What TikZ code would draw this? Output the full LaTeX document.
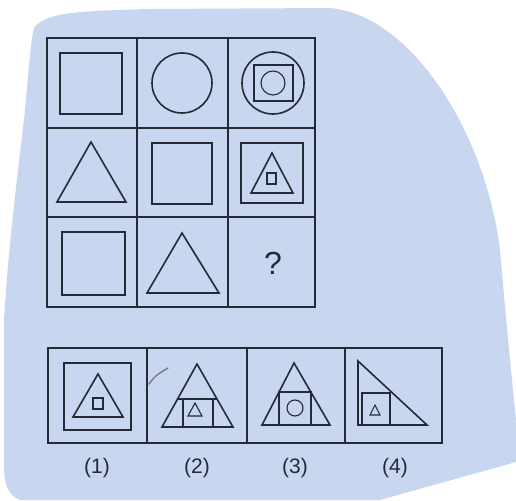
\documentclass[tikz,border=0pt]{standalone}
\usepackage{fontspec}
\setmainfont{Liberation Sans}
\definecolor{PaperBlue}{RGB}{201,214,239}
\definecolor{Ink}{RGB}{38,42,54}

\begin{document}
\begin{tikzpicture}[x=1pt, y=-1pt, line join=miter,
  g/.style={draw=Ink, line width=2pt},
  f/.style={draw=Ink, line width=1.6pt},
  t/.style={draw=Ink, line width=1.1pt},
  lab/.style={text=Ink, font=\fontsize{21}{24}\selectfont}]
  \useasboundingbox (0,0) rectangle (516,500);
  % paper sheet
  \fill[PaperBlue] (34,28) .. controls (45,12) and (80,11) .. (150,9) -- (330,8)
    .. controls (410,15) and (485,130) .. (500,250)
    .. controls (507,330) and (512,380) .. (516,420) -- (516,462) -- (380,500) -- (20,500)
    .. controls (8,495) and (4,485) .. (4,465) -- (4,320)
    .. controls (8,250) and (18,170) .. (24,120)
    .. controls (28,80) and (30,45) .. (34,28) -- cycle;
  % 3x3 grid
  \draw[g] (47,38) rectangle (315,307);
  \draw[g] (136.7,38) -- (136.7,307) (227.7,38) -- (227.7,307);
  \draw[g] (47,127.7) -- (315,127.7) (47,217.3) -- (315,217.3);
  % row 1
  \draw[f] (60,53) rectangle (122,114);
  \draw[f] (182,83) circle (30);
  \draw[f] (273,83) circle (31);
  \draw[f] (254,65) rectangle (293,101);
  \draw[t] (273,83) circle (12);
  % row 2
  \draw[f] (91,142) -- (126,202) -- (57,202) -- cycle;
  \draw[f] (152,143) rectangle (212,204);
  \draw[f] (241,143) rectangle (303,203);
  \draw[f] (272,153) -- (293,193) -- (251,193) -- cycle;
  \draw[g] (267,173) rectangle (276,184);
  % row 3
  \draw[f] (62,232) rectangle (125,295);
  \draw[f] (182,233) -- (219,293) -- (147,293) -- cycle;
  \node[text=Ink, font=\fontsize{32}{34}\selectfont] (q) at (273,263) {?};
  % answer options
  \draw[g] (48,348) rectangle (442,443);
  \draw[g] (147,348) -- (147,443) (247,348) -- (247,443) (345,348) -- (345,443);
  % (1)
  \draw[f] (64,363) rectangle (131,430);
  \draw[f] (98,374) -- (123,417) -- (73,417) -- cycle;
  \draw[t] (93,398) rectangle (103,409);
  % (2)
  \draw[f] (197,364) -- (233,427) -- (162,427) -- cycle;
  \draw[t] (177.6,399) -- (217,399);
  \draw[t] (183,399) -- (183,427) (213,399) -- (213,427);
  \draw[t] (195,403) -- (202,416) -- (188,416) -- cycle;
  \draw[Ink!60, line width=1.5pt, line cap=round] (149,384) .. controls (155,376) .. (168,368);
  % (3)
  \draw[f] (294,363) -- (330,425) -- (262,425) -- cycle;
  \draw[t] (279,425) -- (279,392) -- (311,392) -- (311,425);
  \draw[t] (295,408) circle (8);
  % (4)
  \draw[f] (358,361) -- (427,425) -- (358,425) -- cycle;
  \draw[f] (362,393) rectangle (390,425);
  \draw[t] (375,405) -- (380,415) -- (370,415) -- cycle;
  % labels
  \node[lab] (o1) at (97,468) {(1)};
  \node[lab] (o2) at (197,468) {(2)};
  \node[lab] (o3) at (295,468) {(3)};
  \node[lab] (o4) at (395,468) {(4)};
\end{tikzpicture}
\end{document}
